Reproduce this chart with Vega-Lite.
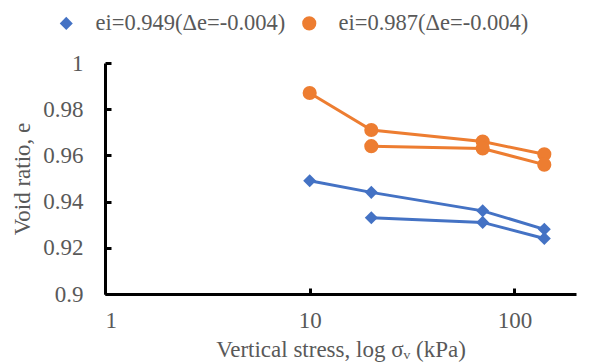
{
  "$schema": "https://vega.github.io/schema/vega-lite/v6.json",
  "width": 471,
  "height": 231,
  "autosize": {"type": "none"},
  "padding": {"left": 105, "top": 63, "right": 17, "bottom": 68},
  "background": "white",
  "config": {
    "view": {"stroke": null},
    "font": "Times New Roman, Liberation Serif, DejaVu Serif, serif",
    "axis": {
      "grid": false,
      "domainColor": "black",
      "domainWidth": 3,
      "tickColor": "black",
      "tickWidth": 3,
      "tickSize": -6,
      "labelFont": "Times New Roman, Liberation Serif, DejaVu Serif, serif",
      "labelFontSize": 23,
      "labelColor": "#595959",
      "titleFont": "Times New Roman, Liberation Serif, DejaVu Serif, serif",
      "titleFontSize": 23,
      "titleFontWeight": "normal",
      "titleColor": "#595959"
    }
  },
  "data": {
    "values": [
      {"series": "ei=0.949(Δe=-0.004)", "step": 1, "stress": 10, "e": 0.949},
      {"series": "ei=0.949(Δe=-0.004)", "step": 2, "stress": 20, "e": 0.944},
      {"series": "ei=0.949(Δe=-0.004)", "step": 3, "stress": 70, "e": 0.936},
      {"series": "ei=0.949(Δe=-0.004)", "step": 4, "stress": 140, "e": 0.928},
      {"series": "ei=0.949(Δe=-0.004)", "step": 5, "stress": 140, "e": 0.924},
      {"series": "ei=0.949(Δe=-0.004)", "step": 6, "stress": 70, "e": 0.931},
      {"series": "ei=0.949(Δe=-0.004)", "step": 7, "stress": 20, "e": 0.933},
      {"series": "ei=0.987(Δe=-0.004)", "step": 1, "stress": 10, "e": 0.987},
      {"series": "ei=0.987(Δe=-0.004)", "step": 2, "stress": 20, "e": 0.971},
      {"series": "ei=0.987(Δe=-0.004)", "step": 3, "stress": 70, "e": 0.966},
      {"series": "ei=0.987(Δe=-0.004)", "step": 4, "stress": 140, "e": 0.9605},
      {"series": "ei=0.987(Δe=-0.004)", "step": 5, "stress": 140, "e": 0.956},
      {"series": "ei=0.987(Δe=-0.004)", "step": 6, "stress": 70, "e": 0.963},
      {"series": "ei=0.987(Δe=-0.004)", "step": 7, "stress": 20, "e": 0.964}
    ]
  },
  "encoding": {
    "x": {
      "field": "stress",
      "type": "quantitative",
      "scale": {"type": "log", "domain": [1, 200], "nice": false},
      "axis": {
        "title": "Vertical stress, log σᵥ (kPa)",
        "values": [1, 10, 100],
        "format": "d",
        "labelPadding": 21,
        "titlePadding": 6
      }
    },
    "y": {
      "field": "e",
      "type": "quantitative",
      "scale": {"domain": [0.9, 1], "nice": false, "zero": false},
      "axis": {
        "title": "Void ratio, e",
        "values": [0.9, 0.92, 0.94, 0.96, 0.98, 1],
        "format": "~g",
        "labelPadding": 28,
        "titlePadding": 8
      }
    },
    "color": {
      "field": "series",
      "type": "nominal",
      "scale": {
        "domain": ["ei=0.949(Δe=-0.004)", "ei=0.987(Δe=-0.004)"],
        "range": ["#4472C4", "#ED7D31"]
      },
      "legend": {
        "title": null,
        "orient": "none",
        "direction": "horizontal",
        "legendX": -50,
        "legendY": -51,
        "labelFont": "Times New Roman, Liberation Serif, DejaVu Serif, serif",
        "labelFontSize": 22.5,
        "labelColor": "#595959",
        "labelLimit": 400,
        "labelOffset": 18,
        "columnPadding": 12,
        "symbolSize": 200,
        "symbolStrokeWidth": 0
      }
    }
  },
  "layer": [
    {
      "mark": {"type": "line", "strokeWidth": 3},
      "encoding": {"order": {"field": "step", "type": "quantitative"}}
    },
    {
      "mark": {"type": "point", "filled": true, "opacity": 1},
      "encoding": {
        "shape": {
          "field": "series",
          "type": "nominal",
          "scale": {
            "domain": ["ei=0.949(Δe=-0.004)", "ei=0.987(Δe=-0.004)"],
            "range": ["diamond", "circle"]
          },
          "legend": null
        },
        "size": {
          "field": "series",
          "type": "nominal",
          "scale": {
            "domain": ["ei=0.949(Δe=-0.004)", "ei=0.987(Δe=-0.004)"],
            "range": [170, 200]
          },
          "legend": null
        }
      }
    }
  ]
}
